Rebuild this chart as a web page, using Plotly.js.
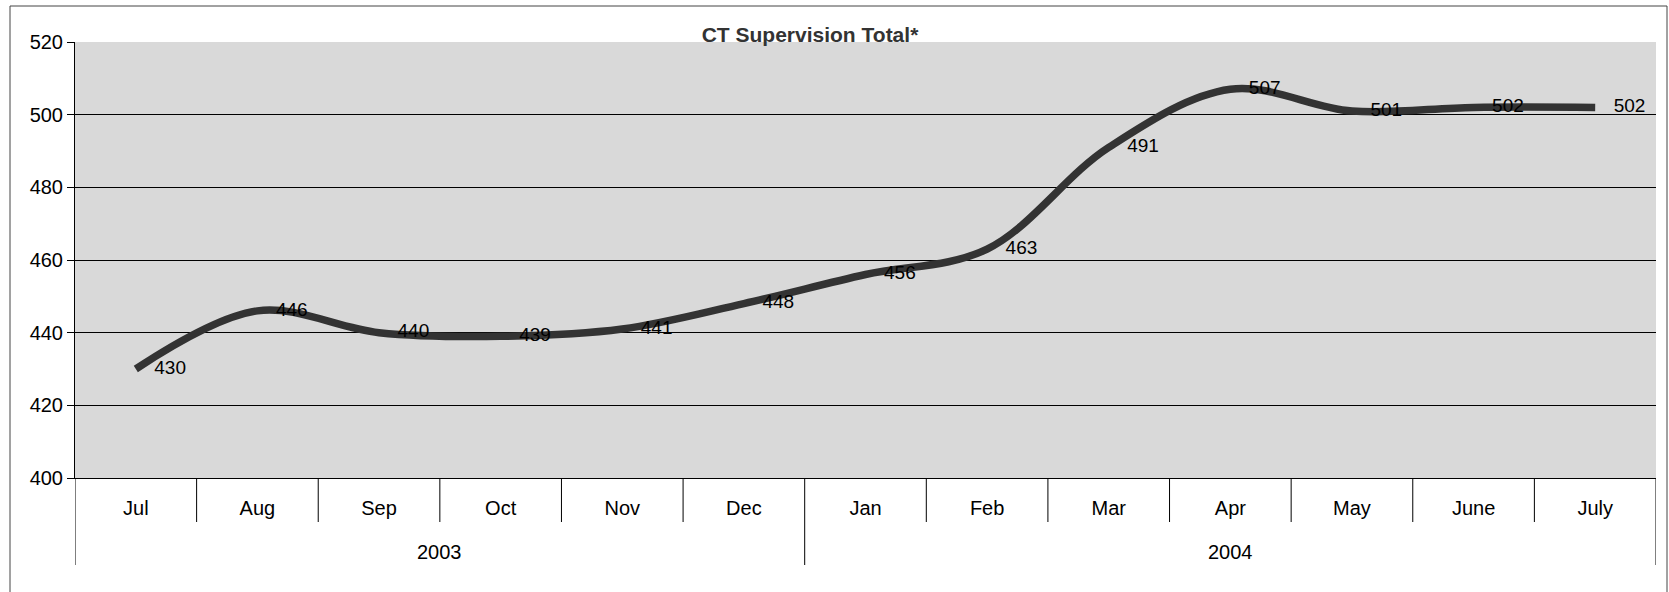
<!DOCTYPE html>
<html>
<head>
<meta charset="utf-8">
<script src="https://cdn.plot.ly/plotly-3.0.1.min.js"></script>
<style>html,body{margin:0;padding:0;background:#fff;}#chart{width:1669px;height:592px;}</style>
</head>
<body>
<div id="chart"></div>
<script>
// ---- data ----
const months = ["Jul","Aug","Sep","Oct","Nov","Dec","Jan","Feb","Mar","Apr","May","June","July"];
const years = ["2003","2004"];
const yearCounts = [6, 7];
const totals = [430, 446, 440, 439, 441, 448, 456, 463, 491, 507, 501, 502, 502];
const yTicks = [400, 420, 440, 460, 480, 500, 520];

// ---- layout constants ----
const W = 1669, H = 592;
const M = {l: 75, r: 13, t: 42, b: 114};
const plotH = H - M.t - M.b;
const plotW = W - M.l - M.r;
const FONT = "Liberation Sans, Arial, sans-serif";

const shapes = [];
const annotations = [];
// month / year dividers
const monthDivLen = 44 / plotH;
const yearDivLen = 87 / plotH;
const yearBounds = [0];
yearCounts.forEach(c => yearBounds.push(yearBounds[yearBounds.length - 1] + c));
for (let i = 0; i <= months.length; i++) {
  const isYear = yearBounds.includes(i);
  shapes.push({type: "line", xref: "x", yref: "paper", x0: i - 0.5, x1: i - 0.5,
    y0: 0, y1: -(isYear ? yearDivLen : monthDivLen), line: {color: "#000", width: 1}});
}
// year labels
years.forEach((yr, k) => {
  const center = (yearBounds[k] + yearBounds[k + 1]) / 2 - 0.5;
  annotations.push({xref: "x", yref: "paper", x: center, y: -74 / plotH, text: yr,
    showarrow: false, xanchor: "center", yanchor: "middle", font: {family: FONT, size: 20, color: "#000"}});
});
// outer frame
shapes.push({type: "rect", xref: "paper", yref: "paper",
  x0: (10 - M.l) / plotW, x1: (1667 - M.l) / plotW,
  y0: -(H + 20 - M.t - plotH) / plotH, y1: (plotH + M.t - 6) / plotH,
  line: {color: "#444", width: 1}, layer: "below"});

const trace = {
  type: "scatter",
  mode: "lines+markers+text",
  x: months,
  y: totals,
  text: totals.map(String),
  textposition: "middle right",
  textfont: {family: FONT, size: 19, color: "#000"},
  line: {color: "#333333", width: 7.5, shape: "spline", smoothing: 1},
  marker: {size: 28, color: "rgba(0,0,0,0)"},
  cliponaxis: false,
  hoverinfo: "x+y"
};

const layout = {
  width: W, height: H,
  margin: M,
  paper_bgcolor: "#fff",
  plot_bgcolor: "#d9d9d9",
  showlegend: false,
  title: {text: "<b>CT Supervision Total*</b>", xref: "container", yref: "container",
    x: 810 / W, y: 1 - 35 / H, xanchor: "center", yanchor: "middle",
    font: {family: FONT, size: 21, color: "#333"}},
  xaxis: {
    type: "category", range: [-0.5, months.length - 0.5],
    showgrid: false, zeroline: false,
    showline: true, linecolor: "#000", linewidth: 1,
    ticks: "", ticklabelstandoff: 12,
    tickfont: {family: FONT, size: 20, color: "#000"},
    fixedrange: true
  },
  yaxis: {
    range: [400, 520], tickvals: yTicks, ticktext: yTicks.map(String),
    showgrid: true, gridcolor: "#000", gridwidth: 1, zeroline: false,
    showline: true, linecolor: "#000", linewidth: 1,
    ticks: "outside", ticklen: 7, tickcolor: "#000",
    tickfont: {family: FONT, size: 20, color: "#000"},
    fixedrange: true
  },
  shapes: shapes,
  annotations: annotations
};

Plotly.newPlot("chart", [trace], layout, {displayModeBar: false, staticPlot: true});
</script>
</body>
</html>
